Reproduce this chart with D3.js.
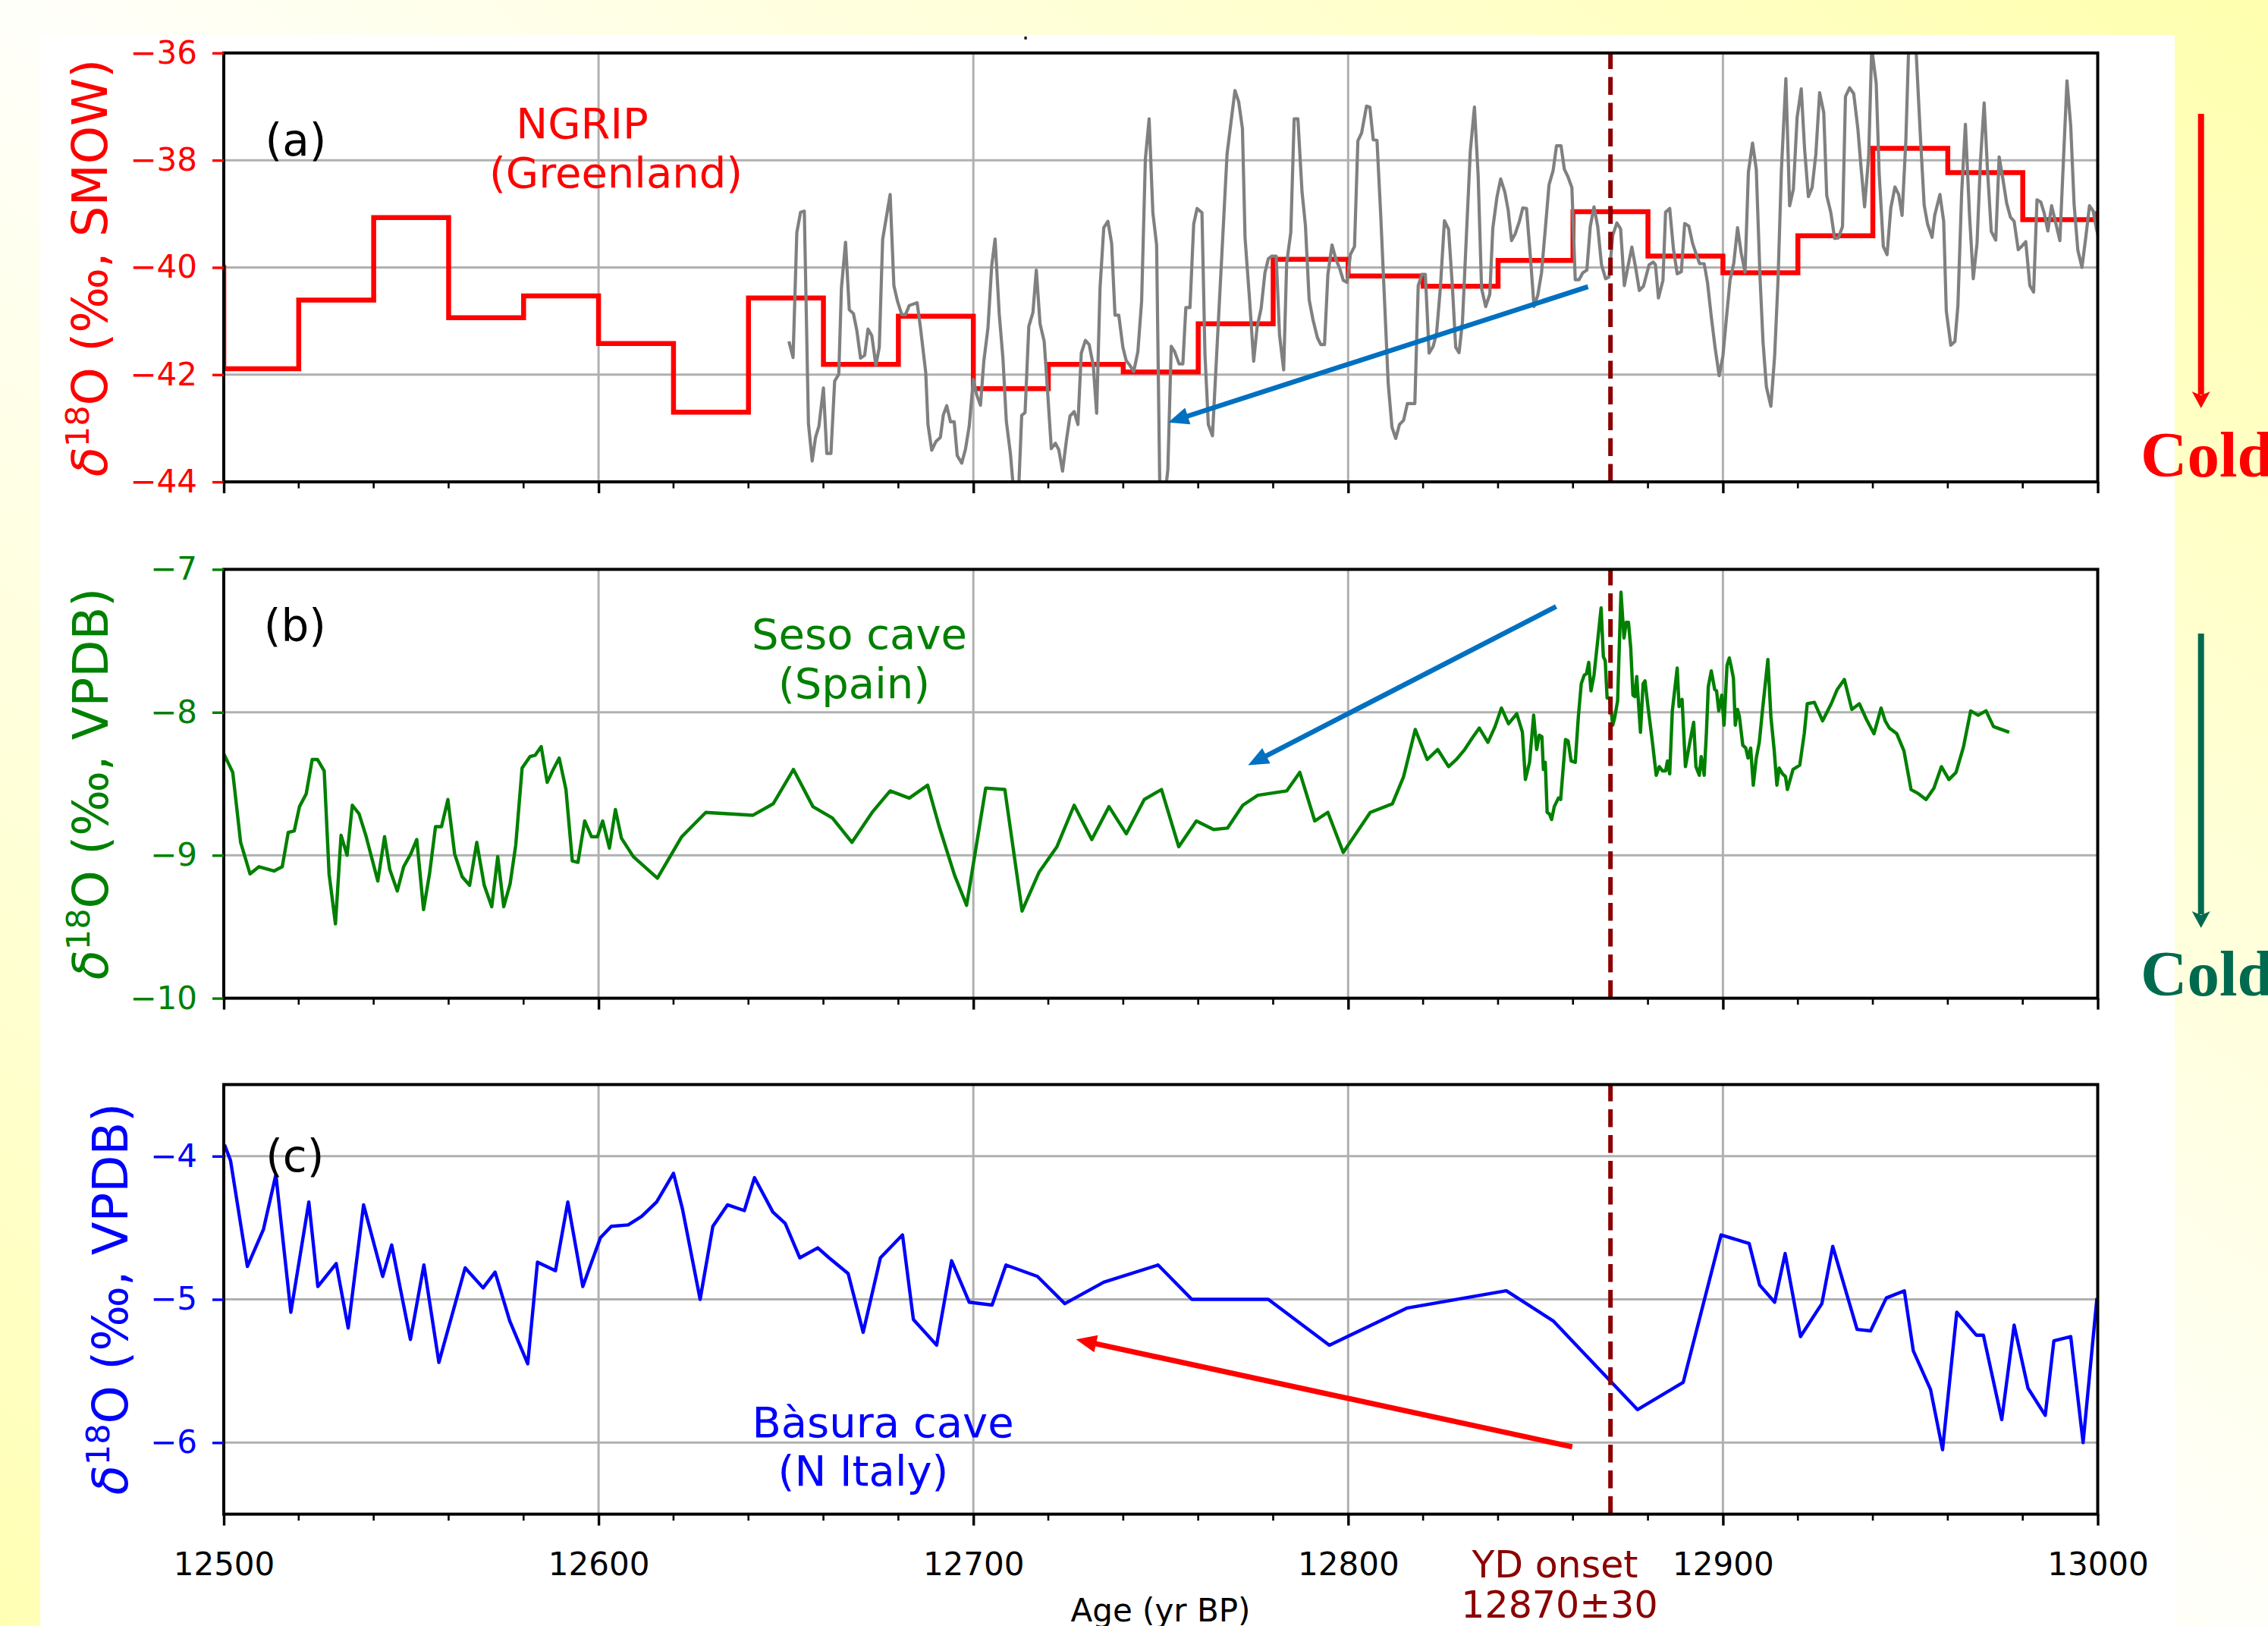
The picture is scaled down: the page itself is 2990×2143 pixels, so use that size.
<!DOCTYPE html>
<html><head><meta charset="utf-8">
<script src="https://cdn.jsdelivr.net/npm/d3@7"></script>
<style>html,body{margin:0;padding:0;background:#fff;} svg{display:block;}</style>
</head><body>
<svg id="chart" width="2990" height="2143"></svg>
<script>
// ---------------- DATA ----------------
// NGRIP 20-yr step means (red)
const ngripStepYears = [12480,12500,12520,12540,12560,12580,12600,12620,12640,12660,12680,12700,12720,12740,12760,12780,12800,12820,12840,12860,12880,12900,12920,12940,12960,12980,13000];
const ngripStepValues = [-40.0,-41.89,-40.61,-39.07,-40.94,-40.53,-41.42,-42.70,-40.57,-41.81,-40.91,-42.26,-41.81,-41.95,-41.05,-39.85,-40.16,-40.35,-39.87,-38.96,-39.79,-40.10,-39.41,-37.78,-38.23,-39.11,-38.95];

// NGRIP high resolution (grey)
const ngripYears = [12650.8,12651.9,12652.9,12653.9,12654.9,12656.0,12657.0,12657.9,12658.8,12660.0,12660.9,12662.0,12663.0,12664.1,12664.8,12665.9,12666.9,12668.0,12668.9,12669.9,12671.0,12671.9,12672.9,12674.0,12674.9,12675.8,12677.8,12678.8,12679.8,12680.9,12681.9,12682.9,12685.0,12685.9,12687.3,12687.9,12688.9,12690.0,12691.2,12692.0,12692.9,12693.9,12694.9,12695.7,12696.9,12697.9,12698.9,12700.0,12700.9,12701.9,12702.8,12703.9,12704.9,12705.8,12706.9,12707.9,12708.8,12709.9,12710.9,12712.0,12712.9,12713.8,12714.8,12715.9,12716.8,12717.8,12718.9,12719.8,12720.8,12721.9,12722.8,12723.8,12724.9,12725.8,12726.9,12727.9,12728.8,12729.9,12730.9,12732.0,12732.9,12733.8,12734.8,12735.9,12736.9,12737.8,12738.8,12739.9,12740.8,12741.8,12742.8,12743.9,12744.9,12745.9,12746.9,12747.9,12748.9,12749.8,12750.9,12751.9,12752.8,12753.7,12754.9,12755.9,12756.7,12757.8,12758.8,12759.7,12761.0,12761.8,12762.7,12763.8,12767.7,12769.8,12770.8,12771.8,12772.5,12773.7,12774.8,12775.7,12776.8,12777.8,12778.7,12779.6,12780.8,12781.7,12782.8,12783.6,12784.7,12785.6,12786.6,12787.7,12788.6,12789.6,12790.6,12791.8,12792.7,12793.7,12794.6,12795.7,12796.7,12797.8,12798.7,12799.7,12800.6,12801.7,12802.6,12803.6,12804.9,12805.8,12806.7,12807.7,12808.7,12809.7,12810.7,12811.7,12812.7,12813.7,12814.8,12815.8,12817.8,12818.7,12819.7,12820.6,12821.6,12822.7,12823.6,12824.6,12825.7,12826.8,12827.8,12828.7,12829.6,12830.5,12831.7,12832.6,12833.7,12834.7,12835.6,12836.7,12837.8,12838.6,12839.7,12840.7,12841.8,12842.7,12843.6,12844.6,12845.7,12846.6,12847.6,12848.7,12849.6,12850.6,12851.6,12852.6,12853.6,12854.7,12855.6,12856.8,12857.7,12858.6,12859.7,12860.6,12861.6,12862.6,12863.7,12864.6,12865.6,12866.6,12867.6,12868.7,12869.6,12870.6,12871.7,12872.7,12873.7,12874.7,12875.7,12876.7,12877.7,12878.8,12880.3,12881.4,12882.0,12882.8,12884.0,12884.7,12885.8,12886.8,12887.8,12888.9,12889.8,12890.9,12891.9,12892.9,12893.8,12895.0,12895.9,12896.9,12897.9,12899.0,12900.0,12900.9,12901.9,12902.9,12903.9,12904.9,12905.9,12906.8,12907.9,12908.9,12909.9,12910.7,12911.6,12912.8,12913.8,12914.7,12915.6,12916.8,12917.8,12918.8,12919.8,12920.9,12921.8,12922.8,12923.8,12924.8,12925.8,12926.9,12927.7,12928.8,12929.8,12930.8,12931.9,12932.7,12933.8,12934.9,12936.0,12936.8,12937.8,12938.9,12939.7,12940.9,12941.7,12942.8,12943.8,12944.8,12945.9,12946.9,12947.8,12948.8,12949.6,12950.6,12951.5,12952.7,12953.7,12954.6,12955.8,12956.5,12957.9,12958.9,12959.6,12960.8,12961.9,12962.7,12963.7,12964.7,12965.8,12966.8,12967.8,12968.7,12969.7,12970.6,12971.6,12972.8,12973.7,12974.7,12975.7,12976.7,12977.7,12978.8,12979.8,12980.8,12981.9,12982.9,12983.8,12984.8,12985.7,12986.7,12987.7,12988.7,12989.9,12990.8,12991.8,12992.8,12993.7,12994.7,12995.8,12996.8,12997.8,12998.8,12999.7,13000.8];
const ngripValues = [-41.38,-41.68,-39.35,-38.97,-38.95,-42.91,-43.61,-43.17,-42.96,-42.25,-43.47,-43.47,-42.12,-41.99,-40.39,-39.53,-40.79,-40.86,-41.17,-41.69,-41.64,-41.15,-41.27,-41.83,-41.49,-39.48,-38.64,-40.34,-40.64,-40.88,-40.88,-40.71,-40.66,-41.13,-41.96,-42.93,-43.41,-43.25,-43.17,-42.75,-42.58,-42.88,-42.88,-43.51,-43.65,-43.39,-42.96,-42.09,-42.38,-42.57,-41.75,-41.13,-39.97,-39.47,-40.86,-41.70,-42.87,-43.48,-44.3,-44.3,-42.76,-42.71,-41.10,-40.84,-40.05,-41.05,-41.38,-42.30,-43.38,-43.28,-43.40,-43.80,-43.19,-42.77,-42.69,-42.93,-41.60,-41.36,-41.44,-41.83,-42.72,-40.39,-39.26,-39.14,-39.55,-40.89,-40.89,-41.49,-41.74,-41.83,-41.94,-41.57,-40.63,-37.98,-37.23,-38.98,-39.58,-44.4,-44.4,-43.77,-41.47,-41.57,-41.80,-41.80,-40.75,-40.75,-39.19,-38.90,-38.98,-41.62,-42.93,-43.14,-37.88,-36.70,-36.91,-37.41,-39.45,-40.60,-41.75,-41.12,-40.76,-40.10,-39.84,-39.79,-39.79,-41.26,-41.91,-39.92,-39.35,-37.23,-37.23,-38.59,-39.21,-40.60,-40.97,-41.31,-41.44,-41.44,-40.13,-39.58,-39.84,-40.03,-40.24,-40.28,-39.76,-39.61,-37.64,-37.49,-36.99,-37.01,-37.62,-37.63,-39.03,-40.60,-42.17,-42.98,-43.19,-42.93,-42.85,-42.54,-42.54,-40.34,-40.13,-40.13,-41.60,-41.47,-41.23,-40.39,-39.13,-39.29,-40.34,-41.49,-41.59,-41.02,-39.19,-37.83,-37.01,-38.30,-40.39,-40.73,-40.50,-39.27,-38.69,-38.35,-38.59,-38.93,-39.50,-39.37,-39.14,-38.89,-38.90,-39.87,-40.73,-40.52,-40.10,-39.29,-38.46,-38.19,-37.73,-37.73,-38.17,-38.30,-38.51,-40.23,-40.23,-40.10,-40.05,-39.24,-38.87,-39.24,-39.95,-40.21,-40.18,-39.40,-39.17,-39.28,-40.34,-39.97,-39.62,-40.00,-40.43,-40.35,-39.95,-39.90,-39.95,-40.57,-40.24,-38.97,-38.90,-39.66,-40.12,-40.08,-39.18,-39.23,-39.55,-39.76,-39.93,-39.93,-40.29,-40.92,-41.49,-42.02,-41.65,-40.97,-40.24,-39.92,-39.26,-39.74,-40.09,-38.22,-37.68,-38.17,-40.18,-41.39,-42.23,-42.59,-41.65,-40.24,-38.19,-36.48,-38.85,-38.54,-37.20,-36.67,-37.80,-38.68,-38.51,-37.88,-36.74,-37.11,-38.66,-38.98,-39.46,-39.45,-39.24,-36.81,-36.65,-36.76,-37.41,-38.09,-38.87,-37.91,-35.9,-36.57,-38.25,-39.61,-39.76,-38.89,-38.50,-38.64,-39.03,-37.65,-35.8,-35.6,-35.9,-37.57,-38.84,-39.19,-39.44,-39.03,-38.64,-39.14,-40.81,-41.45,-41.38,-40.71,-38.61,-37.33,-39.03,-40.21,-39.55,-38.04,-36.93,-38.19,-39.33,-39.49,-37.94,-38.35,-38.80,-39.06,-39.14,-39.67,-39.60,-39.52,-40.34,-40.46,-38.74,-38.78,-38.98,-39.32,-38.85,-39.14,-39.50,-38.09,-36.52,-37.36,-38.82,-39.68,-40.00,-39.45,-38.85,-38.95,-39.29,-39.6];

// Seso cave (green)
const sesoYears = [12500.0,12502.4,12504.5,12507.0,12509.4,12513.4,12515.6,12517.2,12518.8,12520.2,12522.0,12523.6,12525.0,12526.8,12528.1,12529.8,12531.3,12532.9,12534.3,12536.1,12538.0,12539.5,12541.1,12542.9,12544.3,12546.3,12548.0,12549.9,12551.5,12553.3,12554.9,12556.5,12558.1,12559.8,12561.6,12563.6,12565.6,12567.5,12569.5,12571.5,12573.1,12574.7,12576.4,12577.9,12579.6,12581.7,12583.1,12584.7,12586.3,12587.9,12589.5,12591.3,12593.0,12594.5,12596.3,12598.1,12599.7,12601.1,12602.9,12604.5,12606.1,12609.3,12615.7,12622.2,12628.6,12641.2,12646.6,12652.0,12657.2,12662.4,12667.6,12673.0,12677.8,12682.9,12687.8,12690.9,12695.0,12698.2,12703.3,12708.4,12713.0,12717.5,12722.3,12726.9,12731.6,12736.2,12740.8,12745.6,12750.2,12754.8,12759.5,12764.1,12767.8,12771.9,12775.9,12783.6,12787.1,12791.1,12794.6,12798.7,12805.9,12811.8,12814.8,12817.9,12821.1,12823.9,12826.8,12828.9,12831.1,12833.1,12835.0,12837.3,12839.2,12840.9,12842.8,12845.0,12846.5,12847.3,12848.4,12849.5,12850.3,12851.0,12851.7,12852.1,12852.6,12853.1,12853.7,12854.3,12855.0,12856.1,12856.7,12858.0,12858.7,12859.5,12860.6,12861.4,12862.2,12863.0,12863.6,12864.2,12864.8,12865.6,12866.5,12867.5,12868.1,12868.6,12869.1,12869.8,12870.6,12871.1,12871.9,12872.8,12873.6,12874.2,12874.8,12875.4,12876.0,12876.5,12877.0,12878.0,12878.7,12879.2,12880.0,12881.1,12882.2,12883.0,12883.9,12884.7,12885.2,12885.8,12886.5,12887.8,12888.3,12889.1,12890.0,12891.1,12892.2,12892.8,12893.7,12894.2,12895.0,12895.6,12896.1,12896.9,12897.8,12898.3,12898.9,12899.7,12900.3,12901.1,12901.7,12902.2,12902.8,12903.3,12903.9,12904.4,12905.3,12906.1,12906.7,12907.4,12908.1,12908.9,12909.7,12910.5,12912.0,12912.8,12913.7,12914.4,12915.0,12915.9,12916.7,12917.2,12918.7,12920.5,12921.7,12922.5,12924.4,12926.6,12928.9,12930.5,12932.4,12934.4,12936.4,12938.3,12940.3,12942.2,12943.3,12944.4,12946.4,12948.3,12950.2,12952.2,12954.2,12956.3,12958.3,12960.3,12962.2,12964.2,12966.1,12968.1,12970.2,12972.2,12976.4];
const sesoValues = [-8.29,-8.42,-8.91,-9.13,-9.08,-9.11,-9.08,-8.84,-8.83,-8.66,-8.57,-8.33,-8.33,-8.41,-9.13,-9.48,-8.86,-9.00,-8.65,-8.71,-8.87,-9.02,-9.18,-8.87,-9.10,-9.25,-9.08,-8.99,-8.89,-9.38,-9.13,-8.80,-8.80,-8.61,-8.99,-9.15,-9.21,-8.91,-9.21,-9.36,-9.01,-9.36,-9.20,-8.93,-8.39,-8.31,-8.30,-8.24,-8.49,-8.40,-8.32,-8.54,-9.04,-9.05,-8.76,-8.87,-8.87,-8.76,-8.95,-8.68,-8.88,-9.01,-9.16,-8.87,-8.70,-8.72,-8.64,-8.40,-8.66,-8.74,-8.91,-8.70,-8.55,-8.60,-8.51,-8.80,-9.14,-9.35,-8.53,-8.54,-9.39,-9.12,-8.94,-8.65,-8.89,-8.66,-8.85,-8.61,-8.54,-8.94,-8.76,-8.82,-8.81,-8.65,-8.58,-8.55,-8.42,-8.76,-8.70,-8.98,-8.70,-8.64,-8.45,-8.12,-8.33,-8.26,-8.38,-8.33,-8.26,-8.18,-8.11,-8.21,-8.10,-7.97,-8.08,-8.01,-8.14,-8.47,-8.35,-8.02,-8.26,-8.16,-8.17,-8.40,-8.35,-8.70,-8.71,-8.75,-8.66,-8.60,-8.61,-8.19,-8.20,-8.34,-8.35,-8.04,-7.80,-7.74,-7.73,-7.65,-7.85,-7.74,-7.52,-7.27,-7.61,-7.64,-7.90,-7.90,-8.09,-8.04,-7.92,-7.16,-7.48,-7.37,-7.37,-7.55,-7.88,-7.89,-7.75,-8.14,-7.80,-7.78,-7.96,-8.19,-8.44,-8.38,-8.41,-8.41,-8.34,-8.43,-7.99,-7.69,-7.96,-7.91,-8.38,-8.22,-8.07,-8.38,-8.44,-8.31,-8.44,-8.14,-7.82,-7.71,-7.84,-7.85,-7.99,-7.88,-8.09,-7.67,-7.62,-7.68,-7.76,-8.09,-7.98,-8.03,-8.23,-8.25,-8.32,-8.25,-8.51,-8.32,-8.21,-8.00,-7.63,-8.03,-8.27,-8.51,-8.39,-8.43,-8.45,-8.54,-8.40,-8.37,-8.15,-7.94,-7.93,-8.06,-7.94,-7.84,-7.77,-7.98,-7.94,-8.05,-8.15,-7.97,-8.06,-8.11,-8.15,-8.27,-8.54,-8.57,-8.61,-8.53,-8.38,-8.47,-8.42,-8.24,-7.99,-8.02,-7.99,-8.10,-8.14];

// Basura cave (blue)
const basuraYears = [12500.2,12501.8,12506.3,12510.6,12513.9,12517.9,12522.7,12525.1,12530.0,12533.2,12537.3,12542.4,12544.8,12549.8,12553.4,12557.4,12564.4,12569.2,12572.4,12576.3,12581.1,12583.7,12588.5,12591.8,12595.8,12600.5,12603.4,12607.9,12611.5,12615.5,12620.0,12622.4,12627.1,12630.5,12634.4,12638.9,12641.6,12646.5,12649.8,12653.7,12658.5,12661.5,12666.6,12670.6,12675.2,12681.1,12684.0,12690.2,12694.2,12698.9,12705.0,12708.7,12717.1,12724.4,12734.8,12749.3,12758.3,12778.7,12795.0,12815.8,12842.2,12854.7,12877.2,12889.4,12899.5,12907.0,12909.8,12913.8,12916.6,12920.7,12926.4,12929.3,12935.8,12939.4,12943.6,12948.4,12950.8,12955.4,12958.6,12962.4,12967.6,12969.5,12974.4,12977.7,12981.4,12986.0,12988.3,12992.8,12996.1,12999.8];
const basuraValues = [-3.92,-4.03,-4.77,-4.51,-4.13,-5.09,-4.32,-4.91,-4.75,-5.20,-4.34,-4.84,-4.62,-5.28,-4.76,-5.44,-4.78,-4.92,-4.81,-5.15,-5.45,-4.74,-4.80,-4.32,-4.91,-4.57,-4.49,-4.48,-4.42,-4.32,-4.12,-4.37,-5.00,-4.49,-4.34,-4.38,-4.15,-4.39,-4.47,-4.71,-4.64,-4.71,-4.82,-5.23,-4.71,-4.55,-5.14,-5.32,-4.73,-5.02,-5.04,-4.76,-4.84,-5.03,-4.88,-4.76,-5.00,-5.00,-5.32,-5.06,-4.94,-5.15,-5.77,-5.58,-4.55,-4.61,-4.90,-5.02,-4.68,-5.26,-5.03,-4.63,-5.21,-5.22,-4.99,-4.94,-5.36,-5.63,-6.05,-5.09,-5.25,-5.25,-5.84,-5.18,-5.62,-5.81,-5.29,-5.26,-6.00,-4.99];

// Ticks / labels
const xTickValues = [12500,12600,12700,12800,12900,13000];
const panelATicks = [-44,-42,-40,-38,-36];
const panelBTicks = [-10,-9,-8,-7];
const panelCTicks = [-6,-5,-4];
const ydOnset = 12870;
// Annotation arrows [fromYear, fromValue, toYear, toValue]
const arrowA = [12864.0, -40.36, 12752.0, -42.89];
const arrowB = [12855.5, -7.26, 12773.3, -8.37];
const arrowC = [12859.8, -6.03, 12727.4, -5.28];

// ---------------- DRAW ----------------
const W = 2990, H = 2143;
const FONT = "'DejaVu Sans', sans-serif";
const svg = d3.select("#chart");
const defs = svg.append("defs");
const grad = defs.append("linearGradient").attr("id","bg").attr("x1",0).attr("y1",1).attr("x2",1).attr("y2",0);
grad.append("stop").attr("offset",0).attr("stop-color","#ffffb4");
grad.append("stop").attr("offset",0.5).attr("stop-color","#fffffa");
grad.append("stop").attr("offset",1).attr("stop-color","#ffffae");
svg.append("rect").attr("width",W).attr("height",H).attr("fill","url(#bg)");
svg.append("rect").attr("x",53).attr("y",46).attr("width",2867-53).attr("height",H-46).attr("fill","#ffffff");

const x = d3.scaleLinear().domain([12500, 13000]).range([295, 2765.5]);
const panels = [
  {id:"a", top:69.8, bottom:635.1, domain:[-44,-36], ticks:panelATicks, color:"#ff0000"},
  {id:"b", top:750.4, bottom:1315.6, domain:[-10,-7], ticks:panelBTicks, color:"#008000"},
  {id:"c", top:1429.4, bottom:1995.6, domain:[-6.5,-3.5], ticks:panelCTicks, color:"#0000ff"}
];
const x0 = x.range()[0], x1 = x.range()[1];

function arrow(g, y, a, color, width) {
  const xa = x(a[0]), ya = y(a[1]), xb = x(a[2]), yb = y(a[3]);
  const dx = xb - xa, dy = yb - ya, L = Math.hypot(dx, dy);
  const ux = dx / L, uy = dy / L, hl = 27, hw = 11.5;
  const bx = xb - ux * hl, by = yb - uy * hl;
  g.append("line").attr("x1",xa).attr("y1",ya).attr("x2",bx + ux*2).attr("y2",by + uy*2)
    .attr("stroke",color).attr("stroke-width",width);
  g.append("polygon").attr("points",[[xb,yb],[bx - uy*hw, by + ux*hw],[bx + uy*hw, by - ux*hw]].map(p=>p.join(",")).join(" "))
    .attr("fill",color);
}

panels.forEach((p, i) => {
  const y = d3.scaleLinear().domain(p.domain).range([p.bottom, p.top]);
  const g = svg.append("g");
  defs.append("clipPath").attr("id","clip"+p.id).append("rect")
    .attr("x",x0).attr("y",p.top).attr("width",x1-x0).attr("height",p.bottom-p.top);
  // grid
  g.append("g").selectAll("line.h").data(p.ticks).join("line")
    .attr("x1",x0).attr("x2",x1).attr("y1",d=>y(d)).attr("y2",d=>y(d))
    .attr("stroke","#b0b0b0").attr("stroke-width",3);
  g.append("g").selectAll("line.v").data(xTickValues).join("line")
    .attr("x1",d=>x(d)).attr("x2",d=>x(d)).attr("y1",p.top).attr("y2",p.bottom)
    .attr("stroke","#b0b0b0").attr("stroke-width",3);
  const plot = g.append("g").attr("clip-path",`url(#clip${p.id})`);
  const mk = d3.line().x(d=>x(d[0])).y(d=>y(d[1]));
  if (i === 0) {
    plot.append("path").datum(d3.zip(ngripStepYears, ngripStepValues))
      .attr("d", d3.line().x(d=>x(d[0])).y(d=>y(d[1])).curve(d3.curveStepAfter))
      .attr("fill","none").attr("stroke","#ff0000").attr("stroke-width",6.5);
    plot.append("path").datum(d3.zip(ngripYears, ngripValues)).attr("d", mk)
      .attr("fill","none").attr("stroke","#808080").attr("stroke-width",4.2).attr("stroke-linejoin","round");
    arrow(plot, y, arrowA, "#0070c0", 6.5);
  } else if (i === 1) {
    plot.append("path").datum(d3.zip(sesoYears, sesoValues)).attr("d", mk)
      .attr("fill","none").attr("stroke","#008000").attr("stroke-width",4.4).attr("stroke-linejoin","round");
    arrow(plot, y, arrowB, "#0070c0", 6.5);
  } else {
    plot.append("path").datum(d3.zip(basuraYears, basuraValues)).attr("d", mk)
      .attr("fill","none").attr("stroke","#0000ff").attr("stroke-width",4.4).attr("stroke-linejoin","round");
    arrow(plot, y, arrowC, "#ff0000", 7);
  }
  // YD onset dashed line
  g.append("line").attr("x1",x(ydOnset)).attr("x2",x(ydOnset)).attr("y1",p.bottom).attr("y2",p.top)
    .attr("stroke","#8b0000").attr("stroke-width",6).attr("stroke-dasharray","23.7 10.3");
  // spines
  g.append("rect").attr("x",x0).attr("y",p.top).attr("width",x1-x0).attr("height",p.bottom-p.top)
    .attr("fill","none").attr("stroke","#000").attr("stroke-width",4);
  // y axis
  const ya = g.append("g").attr("transform",`translate(${x0},0)`)
    .call(d3.axisLeft(y).tickValues(p.ticks).tickSize(15).tickPadding(20).tickFormat(d3.format("d")));
  ya.select(".domain").remove();
  ya.selectAll(".tick line").attr("stroke",p.color).attr("stroke-width",3.4);
  ya.selectAll(".tick text").attr("fill",p.color).attr("font-size",42).attr("font-family",FONT);
  // x axis
  const xa = g.append("g").attr("transform",`translate(0,${p.bottom})`)
    .call(d3.axisBottom(x).tickValues(xTickValues).tickSize(15).tickPadding(36)
      .tickFormat(i === 2 ? d3.format("d") : () => ""));
  xa.select(".domain").remove();
  xa.selectAll(".tick line").attr("stroke","#000").attr("stroke-width",3.4);
  xa.selectAll(".tick text").attr("fill","#000").attr("font-size",42).attr("font-family",FONT);
  const minor = d3.range(12520, 13000, 20).filter(v => v % 100 !== 0);
  g.append("g").selectAll("line").data(minor).join("line")
    .attr("x1",d=>x(d)).attr("x2",d=>x(d)).attr("y1",p.bottom).attr("y2",p.bottom+8.5)
    .attr("stroke","#000").attr("stroke-width",2.6);
});

// Y labels
function yLabel(xb, yc, unit, color) {
  const t = svg.append("text").attr("transform",`translate(${xb},${yc}) rotate(-90)`)
    .attr("text-anchor","middle").attr("fill",color).attr("font-size",64).attr("font-family",FONT);
  t.append("tspan").attr("font-style","italic").text("δ");
  t.append("tspan").attr("font-size",43).attr("dy",-24).text("18");
  t.append("tspan").attr("dy",24).text(`O (‰, ${unit})`);
}
yLabel(140.6, 353, "SMOW", "#ff0000");
yLabel(141.5, 1033, "VPDB", "#008000");
yLabel(168, 1712, "VPDB", "#0000ff");

function txt(s, xp, yp, size, color, anchor) {
  return svg.append("text").attr("x",xp).attr("y",yp).attr("font-size",size).attr("fill",color)
    .attr("text-anchor",anchor || "start").attr("font-family",FONT).text(s);
}
txt("(a)", 349.6, 205, 58, "#000");
txt("(b)", 347.8, 845, 58, "#000");
txt("(c)", 350.2, 1544, 58, "#000");
txt("NGRIP", 767.5, 181.7, 56, "#ff0000", "middle");
txt("(Greenland)", 812, 246.8, 56, "#ff0000", "middle");
txt("Seso cave", 1133, 854.7, 56, "#008000", "middle");
txt("(Spain)", 1126, 919.8, 56, "#008000", "middle");
txt("Bàsura cave", 1164, 1894, 56, "#0000ff", "middle");
txt("(N Italy)", 1138, 1958, 56, "#0000ff", "middle");
txt("YD onset", 2050, 2079, 49, "#8b0000", "middle");
txt("12870±30", 2056, 2132, 49, "#8b0000", "middle");
txt("Age (yr BP)", 1530, 2137, 42, "#000", "middle");
txt(".", 1352, 52, 30, "#000", "middle");

// Right side "Cold" indicators
function coldArrow(xc, y0, y1, color) {
  svg.append("line").attr("x1",xc).attr("x2",xc).attr("y1",y0).attr("y2",y1-18)
    .attr("stroke",color).attr("stroke-width",8);
  svg.append("polygon").attr("points",`${xc-12},${y1-22} ${xc},${y1-17} ${xc+12},${y1-22} ${xc},${y1}`).attr("fill",color);
}
coldArrow(2901.7, 150, 538, "#ff0000");
coldArrow(2901.7, 835, 1223, "#006a4e");
svg.append("text").attr("x",2822).attr("y",628).attr("font-family","'Liberation Serif', serif").attr("font-weight","bold")
  .attr("font-size",85).attr("fill","#ff0000").text("Cold");
svg.append("text").attr("x",2822).attr("y",1312).attr("font-family","'Liberation Serif', serif").attr("font-weight","bold")
  .attr("font-size",85).attr("fill","#006a4e").text("Cold");
</script>
</body></html>
